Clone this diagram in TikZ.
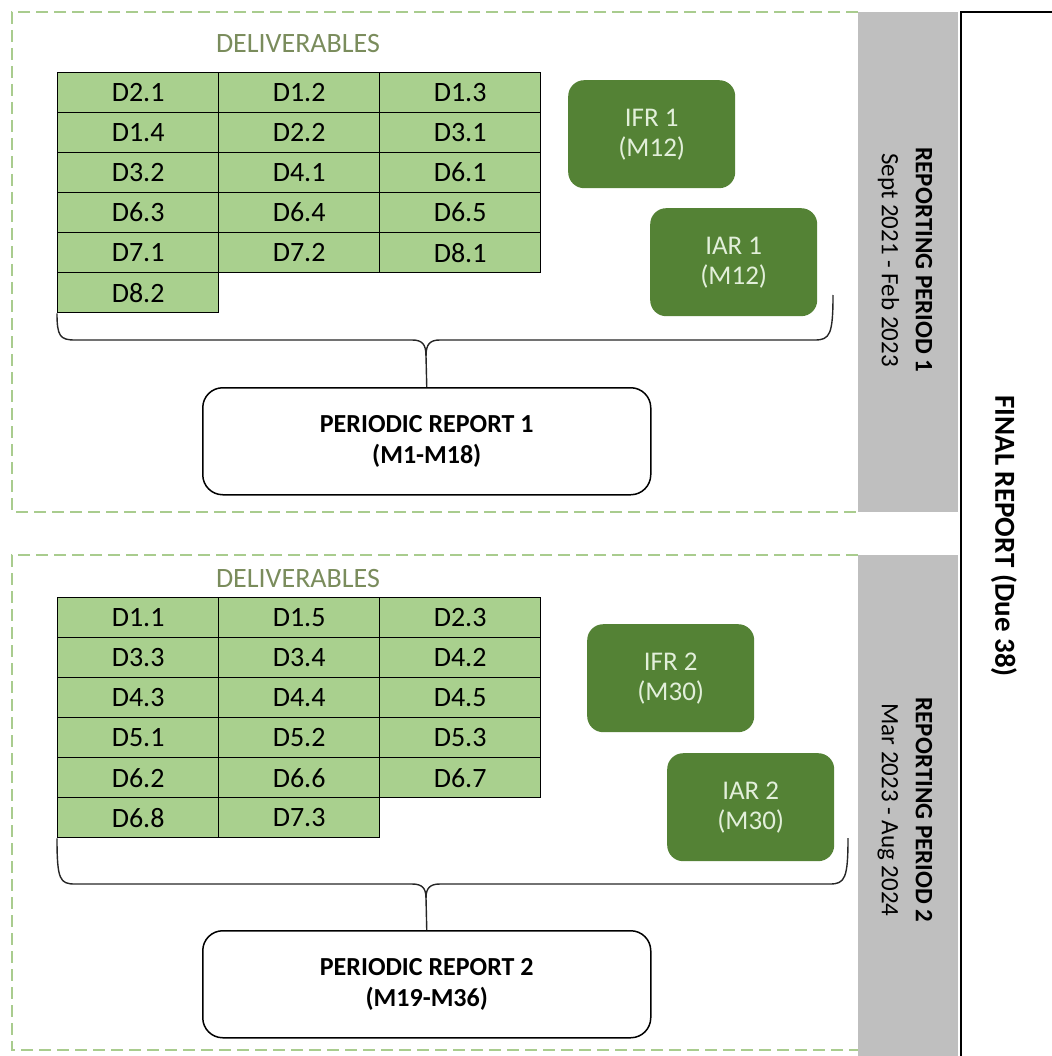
\documentclass[tikz,border=0pt]{standalone}
\usepackage{fontspec}
\setmainfont{Carlito}
\definecolor{cellgreen}{HTML}{A9D08E}
\definecolor{boxgreen}{HTML}{548235}
\definecolor{boxtext}{HTML}{E2EFDA}
\definecolor{delivtext}{HTML}{7A8C5C}
\definecolor{bandgray}{HTML}{BFBFBF}
\definecolor{dashgreen}{HTML}{A9CC8E}
\begin{document}
\begin{tikzpicture}[x=1pt,y=-1pt,
  cell/.style={draw,fill=cellgreen,line width=1.3pt,anchor=north west,minimum width=161pt,minimum height=40pt,inner sep=0pt,font=\fontsize{28}{30}\selectfont},
  interim/.style={fill=boxgreen,rounded corners=16pt,anchor=north west,minimum width=167pt,minimum height=108pt,inner sep=0pt,align=center,text=boxtext,font=\fontsize{27}{30}\selectfont},
  periodic/.style={draw,line width=1.5pt,rounded corners=20pt,anchor=north west,minimum width=448pt,minimum height=107pt,inner sep=0pt,align=center,font=\bfseries\fontsize{26}{31}\selectfont},
  heading/.style={text=delivtext,font=\fontsize{28}{30}\selectfont},
  band/.style={rotate=-90,align=center,font=\fontsize{25}{34}\selectfont},
  zone/.style={dashgreen,line width=2.2pt,dash pattern=on 12pt off 6pt},
  brace/.style={line width=1.4pt,black!85}]
  \useasboundingbox (0,0) rectangle (1051,1056);
  % reporting zones
  \draw[zone] (858,12) -- (12,12) -- (12,512) -- (858,512);
  \draw[zone] (858,555) -- (12,555) -- (12,1050) -- (858,1050);
  \fill[bandgray] (858,12) rectangle (958,512);
  \fill[bandgray] (858,555) rectangle (958,1056);
  \draw[line width=2.5pt] (961,1070) -- (961,12) -- (1070,12);
  \node[band] (rp1) at (905,260) {\textbf{REPORTING PERIOD 1}\\Sept 2021 - Feb 2023};
  \node[band] (rp2) at (905,810) {\textbf{REPORTING PERIOD 2}\\Mar 2023 - Aug 2024};
  \node[rotate=-90,font=\bfseries\fontsize{29}{30}\selectfont] (final) at (1004,536) {FINAL REPORT (Due 38)};

  % period 1
  \node[heading] (dl1) at (298,44) {DELIVERABLES};
  \foreach \lab/\c/\r in {D2.1/0/0,D1.2/1/0,D1.3/2/0,D1.4/0/1,D2.2/1/1,D3.1/2/1,
      D3.2/0/2,D4.1/1/2,D6.1/2/2,D6.3/0/3,D6.4/1/3,D6.5/2/3,D7.1/0/4,D7.2/1/4,D8.1/2/4,D8.2/0/5}
    \node[cell] (a\c\r) at ({57+161*\c},{72+40*\r}) {\lab};
  \node[interim] (ifr1) at (568,80) {IFR 1\\(M12)};
  \node[interim] (iar1) at (650,208) {IAR 1\\(M12)};
  \node[periodic] (pr1) at (202,387) {PERIODIC REPORT 1\\(M1-M18)};
  \coordinate (tip1) at (426,356);
  \coordinate (end1) at (833,295);
  \draw[brace] (a05.south west) .. controls (57,336) and (60,340) .. (75,340) -- (412,340)
    .. controls (422,340) and (426,344) .. (tip1) -- (pr1.north);
  \draw[brace] (end1) .. controls (833,334) and (830,340) .. (815,340) -- (440,340)
    .. controls (430,340) and (426,344) .. (tip1);

  % period 2
  \node[heading] (dl2) at (298,579) {DELIVERABLES};
  \foreach \lab/\c/\r in {D1.1/0/0,D1.5/1/0,D2.3/2/0,D3.3/0/1,D3.4/1/1,D4.2/2/1,
      D4.3/0/2,D4.4/1/2,D4.5/2/2,D5.1/0/3,D5.2/1/3,D5.3/2/3,D6.2/0/4,D6.6/1/4,D6.7/2/4,D6.8/0/5,D7.3/1/5}
    \node[cell] (b\c\r) at ({57+161*\c},{597+40*\r}) {\lab};
  \node[interim] (ifr2) at (587,624) {IFR 2\\(M30)};
  \node[interim] (iar2) at (667,753) {IAR 2\\(M30)};
  \node[periodic] (pr2) at (202,930) {PERIODIC REPORT 2\\(M19-M36)};
  \coordinate (tip2) at (426,898);
  \coordinate (end2) at (848,838);
  \draw[brace] (b05.south west) .. controls (57,880) and (60,884) .. (75,884) -- (412,884)
    .. controls (422,884) and (426,888) .. (tip2) -- (pr2.north);
  \draw[brace] (end2) .. controls (848,878) and (845,884) .. (830,884) -- (440,884)
    .. controls (430,884) and (426,888) .. (tip2);
\end{tikzpicture}
\end{document}
